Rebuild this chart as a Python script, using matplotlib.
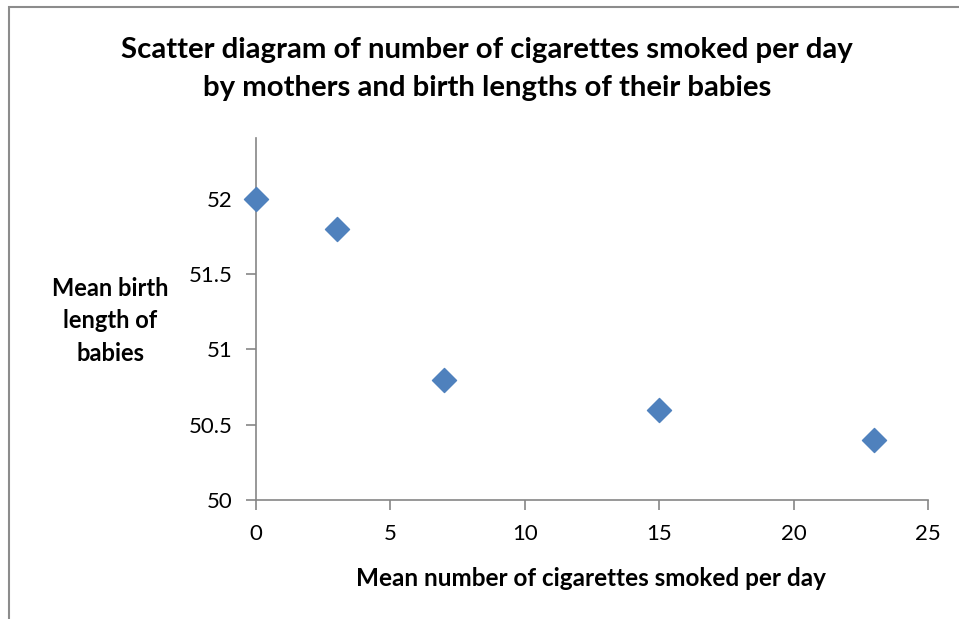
import matplotlib
matplotlib.use('Agg')
import matplotlib.pyplot as plt
from matplotlib.patches import Rectangle

# data
cigs = [0, 3, 7, 15, 23]
length = [52, 51.8, 50.8, 50.6, 50.4]
xticks = [0, 5, 10, 15, 20, 25]
yticks = [50, 50.5, 51, 51.5, 52]
ytick_labels = ['50', '50.5', '51', '51.5', '52']

plt.rcParams['font.family'] = ['Lato', 'DejaVu Sans']

fig = plt.figure(figsize=(9.59, 6.19), dpi=100)

# outer chart border (only left and top visible in the picture)
fig.patches.append(Rectangle((9/959, -0.1), 1.2, 1 - 7/619 + 0.1, transform=fig.transFigure,
                             fill=False, edgecolor='#8c8c8c', linewidth=1.5))

ax = fig.add_axes([256/959, 1 - 500/619, (928 - 256)/959, (500 - 138)/619])

ax.scatter(cigs, length, marker='D', s=150, color='#4F81BD', zorder=3, clip_on=False)

ax.set_xlim(0, 25)
ax.set_ylim(50, 52.405)
ax.set_xticks(xticks)
ax.set_yticks(yticks)
ax.set_yticklabels(ytick_labels)

for s in ['top', 'right']:
    ax.spines[s].set_visible(False)
for s in ['left', 'bottom']:
    ax.spines[s].set_color('#868686')
    ax.spines[s].set_linewidth(1.2)
ax.tick_params(axis='both', colors='#868686', length=7, width=1.2, labelcolor='black', labelsize=16)
ax.tick_params(axis='x', pad=10)
ax.tick_params(axis='y', pad=10)

fig.text(0.508, 1 - 69/619, 'Scatter diagram of number of cigarettes smoked per day\nby mothers and birth lengths of their babies',
         ha='center', va='center', fontsize=21.2, fontweight='bold', linespacing=1.55)
fig.text(110/959, 1 - 321/619, 'Mean birth\nlength of\nbabies', ha='center', va='center',
         fontsize=17, fontweight='bold', linespacing=1.5)
fig.text(591/959, 1 - 578/619, 'Mean number of cigarettes smoked per day', ha='center', va='center',
         fontsize=17.5, fontweight='bold')

fig.savefig('out.png', dpi=100)
